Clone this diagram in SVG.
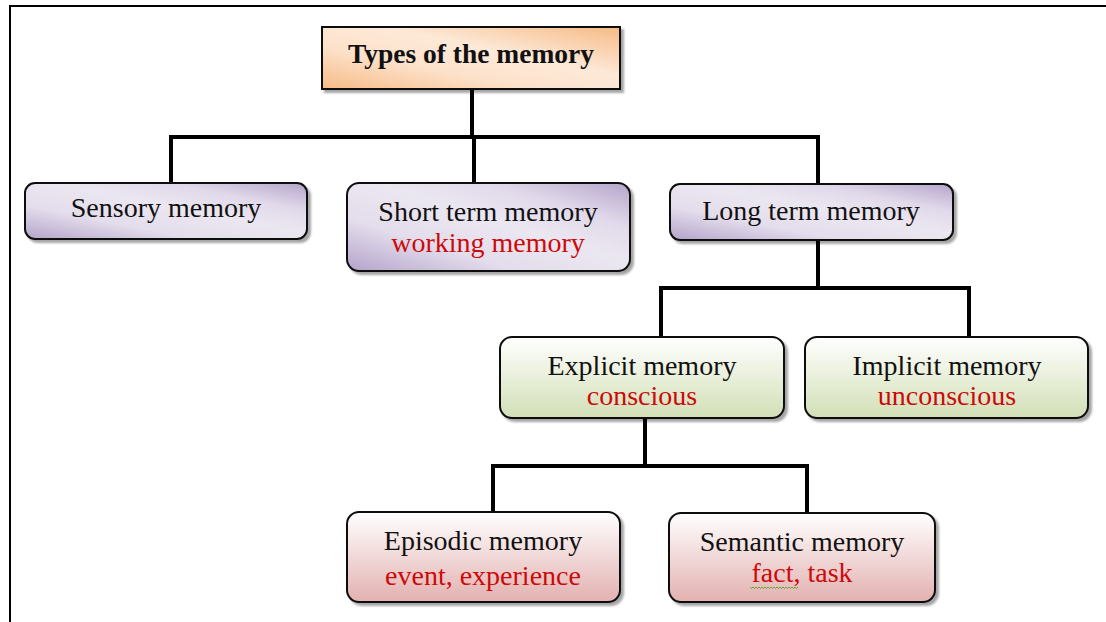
<svg xmlns="http://www.w3.org/2000/svg" width="1106" height="622" viewBox="0 0 1106 622">
<defs>
<linearGradient id="gOrange" x1="0" y1="1" x2="1" y2="0">
<stop offset="0" stop-color="#f6bb86"/><stop offset="0.35" stop-color="#fde2cb"/><stop offset="0.6" stop-color="#fde9d8"/><stop offset="1" stop-color="#f6ba84"/>
</linearGradient>
<linearGradient id="gPurple" x1="0" y1="1" x2="1" y2="0">
<stop offset="0" stop-color="#b3a3ca"/><stop offset="0.3" stop-color="#e4ddec"/><stop offset="0.55" stop-color="#ebe7f1"/><stop offset="0.75" stop-color="#e1d9ea"/><stop offset="1" stop-color="#b4a4cb"/>
</linearGradient>
<linearGradient id="gGreen" x1="0" y1="0" x2="0" y2="1">
<stop offset="0" stop-color="#ffffff"/><stop offset="1" stop-color="#d2dfb6"/>
</linearGradient>
<linearGradient id="gPink" x1="0" y1="0" x2="0" y2="1">
<stop offset="0" stop-color="#ffffff"/><stop offset="1" stop-color="#e2b1b0"/>
</linearGradient>
<filter id="sh" x="-5%" y="-10%" width="115%" height="130%">
<feDropShadow dx="3" dy="3" stdDeviation="1.2" flood-color="#000" flood-opacity="0.35"/>
</filter>
</defs>
<style>
.box{stroke:#111;stroke-width:2;filter:url(#sh)}
.t{font-family:"Liberation Serif","Times New Roman",serif;font-size:28px;fill:#111;text-anchor:middle}
.r{fill:#cc0a0a}
.b{font-weight:bold;font-size:27.5px}
.c{fill:none;stroke:#000;stroke-width:4;stroke-linejoin:miter}
.frame{fill:none;stroke:#000;stroke-width:2}
</style>
<rect width="1106" height="622" fill="#fff"/>
<polyline class="frame" points="10,622 10,6 1106,6"/>
<g id="connectors">
<polyline class="c" points="472,89 472,137"/>
<polyline class="c" points="171,182 171,137 818,137 818,183"/>
<polyline class="c" points="474,137 474,183"/>
<polyline class="c" points="818,240 818,288"/>
<polyline class="c" points="661,337 661,288 969,288 969,337"/>
<polyline class="c" points="645,418 645,466"/>
<polyline class="c" points="493,512 493,466 807,466 807,513"/>
</g>
<g id="types">
<rect class="box" x="322" y="27" width="298" height="62" fill="url(#gOrange)"/>
<text class="t b" x="471" y="63">Types of the memory</text>
</g>
<g id="sensory">
<rect class="box" x="25" y="183" width="282" height="56" rx="10" fill="url(#gPurple)"/>
<text class="t" x="166" y="217">Sensory memory</text>
</g>
<g id="short">
<rect class="box" x="347" y="183" width="283" height="88" rx="12" fill="url(#gPurple)"/>
<text class="t" x="488" y="221">Short term memory</text>
<text class="t r" x="488" y="252">working memory</text>
</g>
<g id="long">
<rect class="box" x="670" y="184" width="283" height="56" rx="10" fill="url(#gPurple)"/>
<text class="t" x="811" y="220">Long term memory</text>
</g>
<g id="explicit">
<rect class="box" x="500" y="337" width="284" height="81" rx="12" fill="url(#gGreen)"/>
<text class="t" x="642" y="375">Explicit memory</text>
<text class="t r" x="642" y="405">conscious</text>
</g>
<g id="implicit">
<rect class="box" x="805" y="337" width="283" height="81" rx="12" fill="url(#gGreen)"/>
<text class="t" x="947" y="375">Implicit memory</text>
<text class="t r" x="947" y="405">unconscious</text>
</g>
<g id="episodic">
<rect class="box" x="347" y="512" width="273" height="90" rx="12" fill="url(#gPink)"/>
<text class="t" x="483" y="550">Episodic memory</text>
<text class="t r" x="483" y="585">event, experience</text>
</g>
<g id="semantic">
<rect class="box" x="669" y="513" width="266" height="89" rx="12" fill="url(#gPink)"/>
<text class="t" x="802" y="551">Semantic memory</text>
<text class="t r" x="802" y="582">fact, task</text>
<polyline fill="none" stroke="#5aa832" stroke-width="1" points="750,587 751.5,588.5 753,587 754.5,588.5 756,587 757.5,588.5 759,587 760.5,588.5 762,587 763.5,588.5 765,587 766.5,588.5 768,587 769.5,588.5 771,587 772.5,588.5 774,587 775.5,588.5 777,587 778.5,588.5 780,587 781.5,588.5 783,587 784.5,588.5 786,587 787.5,588.5 789,587 790.5,588.5 792,587 793.5,588.5 795,587 796.5,588.5 798,587"/>
</g>
</svg>
